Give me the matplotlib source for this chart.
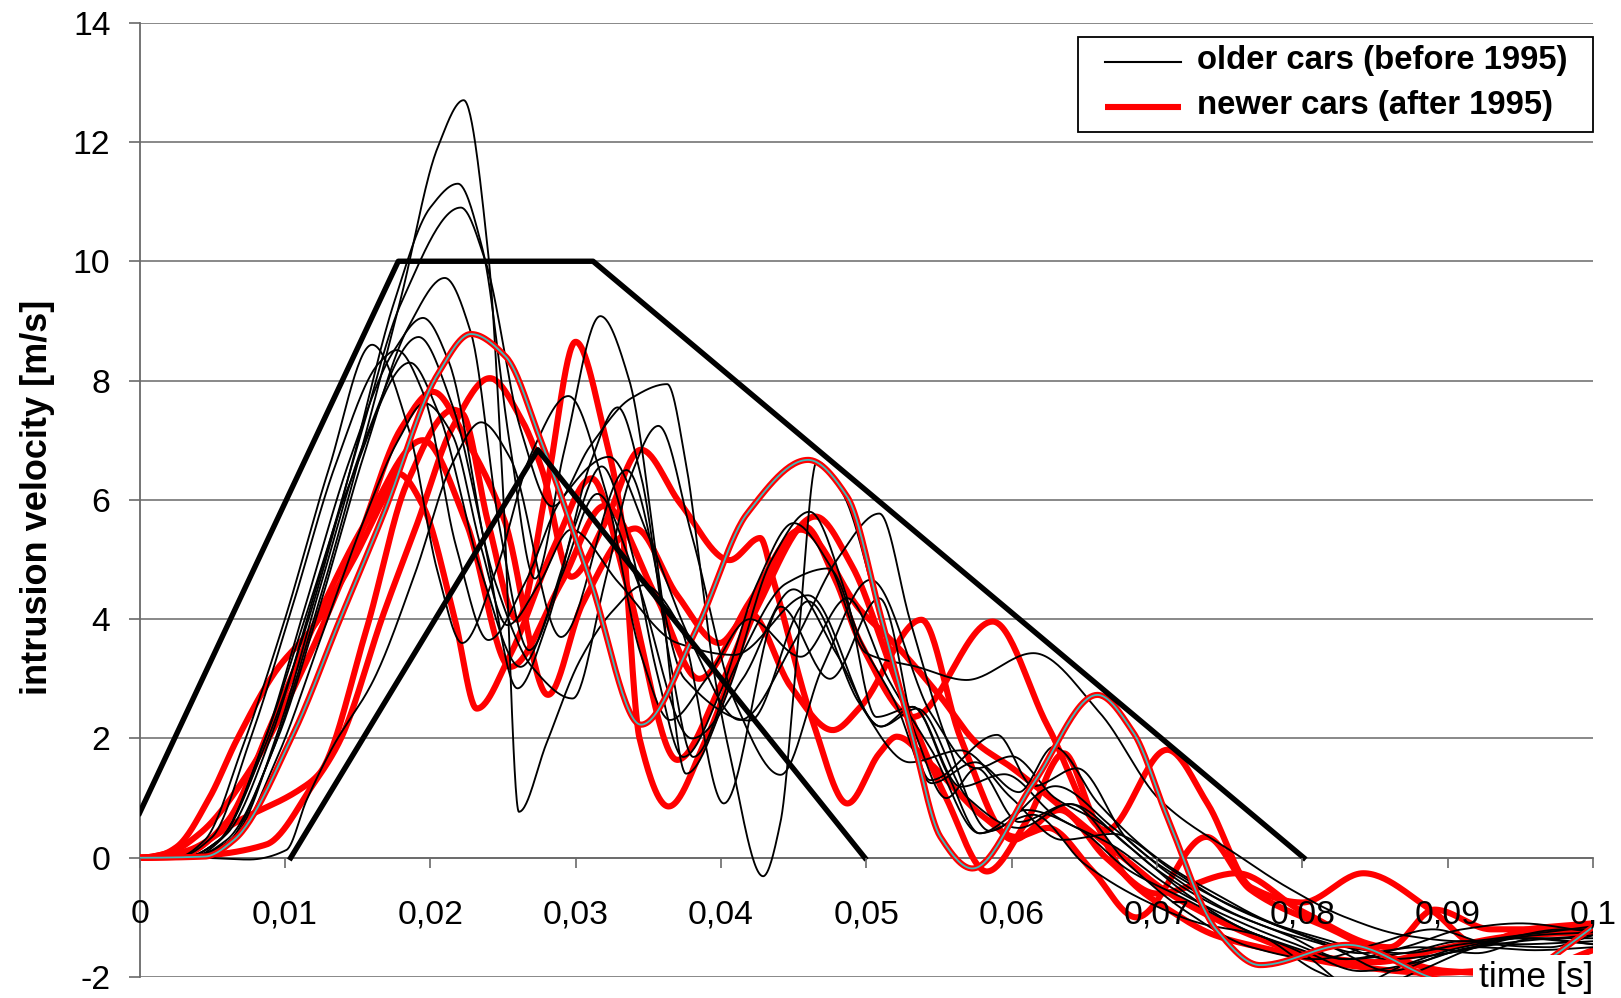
import numpy as np
import matplotlib
matplotlib.use("Agg")
import matplotlib.pyplot as plt
from matplotlib.patches import Rectangle

# ---------------- data ----------------
x_ticks = [0, 0.01, 0.02, 0.03, 0.04, 0.05, 0.06, 0.07, 0.08, 0.09, 0.1]
x_tick_labels = ["0", "0,01", "0,02", "0,03", "0,04", "0,05", "0,06", "0,07", "0,08", "0,09", "0,1"]
y_ticks = [-2, 0, 2, 4, 6, 8, 10, 12, 14]
legend_labels = ["older cars (before 1995)", "newer cars (after 1995)"]

# corridor (thick black)
corridor_outer_t = [0.0, 0.0178, 0.0312, 0.0801]
corridor_outer_v = [0.75, 10.0, 10.0, 0.0]
corridor_inner_t = [0.0104, 0.0274, 0.0499]
corridor_inner_v = [0.0, 6.84, 0.0]

# older cars (before 1995)
old_1_t = [0, .003, .006, .009, .012, .015, .018, .0205, .0223, .024, .025, .0261, .028, .0303, .0326, .0347, .0372, .0402, .0441, .0475, .0509, .0544, .059, .0615, .0645, .068, .072, .076, .080, .084, .088, .092, .096, .1]
old_1_v = [0, 0, .25, 1.7, 4.0, 6.6, 9.4, 11.9, 12.7, 10.1, 6.2, .77, 1.92, 3.31, 4.15, 4.57, 3.87, .91, 4.21, 3.0, 4.35, 1.3, 2.06, 1.2, 1.5, .3, -.4, -.9, -1.3, -1.6, -1.5, -1.6, -1.35, -1.45]
old_2_t = [0, .003, .0055, .0085, .0115, .0145, .0175, .020, .0219, .0236, .0255, .0272, .0292, .0317, .0337, .0357, .0376, .0405, .0435, .0461, .0485, .0507, .0532, .0556, .0578, .0615, .065, .069, .073, .077, .081, .0845, .088, .092, .096, .1]
old_2_v = [0, 0, .3, 1.8, 3.9, 6.5, 9.3, 10.9, 11.3, 10.2, 6.9, 4.68, 6.8, 9.08, 8.0, 4.8, 1.41, 2.8, 5.0, 5.8, 4.5, 2.36, 2.53, 1.4, .41, .72, -.1, -.7, -1.1, -1.3, -1.9, -2.2, -1.9, -1.5, -1.3, -1.25]
old_3_t = [0, .0035, .006, .009, .012, .015, .018, .0221, .0238, .0262, .0284, .031, .0338, .0363, .0376, .0386, .0395, .0406, .0429, .0441, .0453, .0466, .0484, .051, .0535, .0555, .0576, .0605, .064, .068, .072, .0765, .081, .085, .089, .093, .097, .1]
old_3_v = [0, 0, .4, 2.0, 4.4, 6.9, 9.3, 10.9, 10.0, 7.2, 5.89, 6.9, 7.7, 7.94, 6.6, 4.82, 3.15, 1.75, -.31, .6, 3.6, 6.64, 6.1, 4.0, 2.0, 1.0, 1.5, .6, .9, -.1, -.9, -1.5, -1.7, -1.45, -1.2, -1.45, -1.5, -1.3]
old_4_t = [0, .0035, .006, .0095, .0125, .0155, .0185, .021, .0228, .0248, .0268, .029, .031, .0329, .0345, .0365, .0381, .041, .0445, .0474, .0497, .052, .0545, .0575, .0605, .0629, .066, .070, .074, .078, .082, .086, .090, .094, .098, .1]
old_4_v = [0, 0, .3, 2.0, 4.3, 6.8, 8.9, 9.72, 8.8, 5.5, 3.48, 4.8, 6.6, 7.55, 6.4, 3.3, 1.69, 3.2, 4.6, 4.85, 3.6, 2.6, 1.25, 1.6, 1.1, 1.86, .9, 0, -.6, -1.1, -1.4, -1.7, -1.6, -1.35, -1.2, -1.2]
old_5_t = [0, .003, .0055, .0085, .0115, .0145, .0175, .0195, .0213, .0238, .026, .028, .030, .0318, .0338, .0356, .0374, .040, .0425, .045, .0475, .050, .0535, .0569, .0615, .0661, .0702, .0757, .079, .083, .087, .091, .095, .1]
old_5_v = [0, 0, .3, 1.9, 4.3, 6.7, 8.5, 9.05, 8.3, 5.2, 2.84, 3.9, 5.6, 6.56, 5.2, 3.1, 1.69, 2.8, 4.6, 5.61, 4.9, 3.43, 3.2, 2.98, 3.43, 2.42, .97, .02, -.5, -1.0, -1.3, -1.4, -1.3, -1.15]
old_6_t = [0, .0035, .0065, .0095, .0125, .0155, .0192, .0215, .0245, .027, .0298, .032, .0338, .0357, .038, .041, .0441, .047, .0503, .0545, .0576, .060, .063, .066, .070, .074, .078, .082, .086, .090, .095, .1]
old_6_v = [0, 0, .35, 2.1, 4.6, 7.0, 8.73, 7.6, 4.6, 3.2, 2.67, 4.6, 6.4, 7.24, 5.4, 2.6, 1.39, 3.2, 4.66, 2.4, 1.5, 1.7, 1.0, .6, -.2, -.8, -1.2, -1.5, -1.9, -1.6, -1.4, -1.3]
old_7_t = [0, .0025, .0045, .007, .010, .013, .016, .0185, .0205, .0222, .0245, .027, .0295, .032, .0345, .0365, .039, .042, .0455, .0487, .0515, .0545, .0578, .061, .0645, .068, .072, .076, .080, .0835, .087, .091, .095, .1]
old_7_v = [0, 0, .3, 1.8, 4.0, 6.5, 8.6, 7.2, 4.8, 3.6, 4.8, 6.8, 7.74, 6.2, 3.4, 2.31, 3.0, 4.0, 3.37, 4.35, 3.0, 1.8, .41, .8, .5, -.2, -.7, -1.2, -1.6, -2.15, -1.8, -1.5, -1.35, -1.45]
old_8_t = [0, .0025, .005, .0075, .0105, .0135, .0165, .0177, .0195, .0218, .024, .0265, .029, .0323, .035, .038, .0413, .045, .048, .0509, .053, .0555, .0585, .063, .067, .071, .075, .079, .083, .087, .091, .095, .1]
old_8_v = [0, 0, .35, 1.9, 4.2, 6.6, 8.3, 8.51, 7.8, 5.2, 3.65, 4.6, 6.0, 6.72, 5.4, 3.6, 2.31, 3.6, 5.0, 5.77, 3.99, 2.0, .45, 1.2, .5, -.3, -.9, -1.3, -1.7, -1.5, -1.2, -1.1, -1.25]
old_9_t = [0, .0035, .0065, .0095, .0125, .0155, .0178, .0196, .0215, .0235, .0253, .0275, .0297, .033, .037, .0409, .046, .051, .0532, .0565, .0595, .063, .067, .071, .075, .079, .083, .087, .091, .095, .1]
old_9_v = [0, 0, .3, 1.7, 3.7, 5.7, 7.0, 7.62, 7.1, 5.2, 3.9, 4.6, 5.5, 4.6, 3.6, 3.4, 4.4, 2.2, 2.53, 1.19, 1.4, .7, .2, -.5, -1.0, -1.4, -1.7, -1.6, -1.4, -1.45, -1.4]
old_10_t = [0, .003, .0055, .0085, .0115, .0145, .0186, .0205, .0235, .0262, .029, .0315, .034, .038, .0415, .045, .048, .051, .0535, .057, .0605, .064, .068, .072, .076, .080, .084, .088, .092, .096, .1]
old_10_v = [0, 0, .3, 1.9, 4.1, 6.3, 8.3, 7.5, 4.8, 3.2, 4.7, 6.1, 4.8, 2.0, 3.0, 4.5, 3.4, 2.2, 2.5, 1.0, .5, .9, .2, -.6, -1.2, -1.55, -1.9, -1.75, -1.5, -1.55, -1.5]
old_11_t = [0, .004, .0075, .0101, .0115, .0133, .0161, .019, .0215, .0235, .0255, .029, .0335, .0375, .042, .046, .0495, .053, .0565, .060, .0635, .067, .071, .075, .079, .083, .087, .091, .095, .1]
old_11_v = [0, 0, -.03, .13, .97, 1.86, 2.98, 4.8, 6.6, 7.3, 6.7, 3.7, 6.5, 3.0, 2.3, 4.3, 2.6, 1.6, 1.8, 1.0, .3, .4, -.2, -.8, -1.2, -1.5, -1.6, -1.45, -1.35, -1.35]

# newer cars (after 1995)
new_1_t = [0, .0045, .0065, .0106, .0138, .0168, .0205, .0228, .0252, .0276, .031, .0345, .0383, .0418, .046, .0487, .051, .0531, .0551, .0573, .0615, .0659, .0684, .0707, .0741, .0771, .0831, .0895, .094, .097, .1]
new_1_v = [0, .02, .3, 2.09, 4.0, 5.77, 8.1, 8.78, 8.4, 7.0, 4.66, 2.23, 3.82, 5.77, 6.67, 6.05, 4.05, 2.1, .35, -.18, 1.25, 2.73, 2.09, .69, -1.21, -1.8, -1.46, -2.05, -2.2, -1.7, -1.16]
new_2_t = [0, .0015, .00255, .00484, .00668, .00943, .01195, .0147, .0170, .0178, .0195, .0217, .0232, .0255, .0285, .0311, .0335, .037, .040, .043, .0458, .0478, .0496, .0532, .0587, .0625, .0665, .0707, .0735, .0765, .080, .0842, .089, .092, .0955, .1]
new_2_v = [0, .05, .18, 1.02, 1.97, 3.15, 3.87, 4.99, 6.11, 6.44, 5.9, 3.99, 2.5, 3.4, 5.2, 6.36, 4.6, 1.64, 2.9, 4.6, 5.55, 4.7, 3.6, 2.36, 3.96, 2.2, .46, 1.81, .9, -.5, -.75, -.26, -.9, -1.45, -1.2, -1.1]
new_3_t = [0, .002, .00416, .0076, .0115, .015, .018, .0202, .0225, .0251, .0281, .0305, .0341, .037, .0399, .042, .0448, .0477, .0496, .0538, .0565, .0601, .0633, .0665, .070, .0755, .080, .086, .0891, .093, .1]
new_3_v = [0, .08, .41, 1.47, 3.3, 5.3, 7.2, 7.81, 7.0, 5.66, 2.73, 4.27, 5.52, 4.4, 3.6, 4.1, 2.87, 2.14, 2.53, 3.99, 2.0, .3, .8, 0, -.6, -.26, -.9, -1.5, -.87, -1.2, -1.2]
new_4_t = [0, .003, .0069, .011, .0124, .0156, .0184, .0216, .0222, .0240, .026, .028, .030, .0321, .0331, .0344, .0364, .039, .0425, .0465, .049, .052, .0555, .0583, .061, .0636, .0656, .0679, .071, .074, .078, .083, .089, .095, .1]
new_4_v = [0, .1, .63, 1.14, 1.42, 3.82, 6.28, 7.51, 7.45, 5.6, 3.99, 6.2, 8.65, 7.0, 5.77, 2.0, .86, 2.0, 4.2, 5.72, 4.9, 3.0, 1.0, -.23, .6, 1.75, .69, -.32, -.9, -1.3, -1.55, -1.8, -1.93, -1.85, -1.8]
new_5_t = [0, .004, .0087, .012, .0138, .0168, .0191, .0215, .0241, .0263, .0277, .0297, .032, .0345, .0372, .0406, .0427, .0436, .0463, .0487, .0509, .0521, .0544, .058, .0603, .0625, .0655, .0686, .0734, .0764, .082, .0865, .09, .095, .1]
new_5_v = [0, .03, .22, 1.25, 1.97, 4.1, 5.6, 7.2, 8.04, 7.34, 6.5, 4.71, 5.6, 6.84, 5.94, 4.99, 5.36, 4.66, 2.3, .91, 1.75, 2.03, 1.58, .7, .35, .5, -.2, -1.0, .35, -.53, -1.2, -1.7, -1.9, -1.95, -1.55]
new_6_t = [0, .003, .006, .009, .012, .0155, .0195, .0225, .0255, .029, .032, .0355, .0385, .042, .0455, .0496, .0519, .0551, .0576, .0599, .0617, .0656, .0679, .0702, .073, .0765, .080, .085, .090, .095, .1]
new_6_v = [0, .05, .6, 2.2, 3.9, 5.6, 7.0, 5.6, 3.2, 4.6, 5.9, 4.4, 3.0, 4.3, 5.5, 4.15, 3.6, 2.7, 1.92, 1.53, 1.19, .41, -.04, -.49, -.9, -1.3, -1.6, -1.75, -1.5, -1.3, -1.25]

old_cars = [(old_1_t, old_1_v), (old_2_t, old_2_v), (old_3_t, old_3_v), (old_4_t, old_4_v),
            (old_5_t, old_5_v), (old_6_t, old_6_v), (old_7_t, old_7_v), (old_8_t, old_8_v),
            (old_9_t, old_9_v), (old_10_t, old_10_v), (old_11_t, old_11_v)]
new_cars = [(new_2_t, new_2_v), (new_3_t, new_3_v), (new_4_t, new_4_v),
            (new_5_t, new_5_v), (new_6_t, new_6_v)]
new_highlight = (new_1_t, new_1_v)


# smooth drawing through the read points (like a spreadsheet "smoothed line")
def smooth(t, v, n=30):
    x = np.asarray(t, float)
    y = np.asarray(v, float)
    h = np.diff(x)
    d = np.diff(y) / h
    m = np.zeros_like(y)
    for k in range(1, len(y) - 1):
        if d[k - 1] * d[k] > 0:
            w1 = 2 * h[k] + h[k - 1]
            w2 = h[k] + 2 * h[k - 1]
            m[k] = (w1 + w2) / (w1 / d[k - 1] + w2 / d[k])
    m[0] = 0.0
    m[-1] = d[-1]
    xs, ys = [], []
    for k in range(len(h)):
        s = np.linspace(0, 1, n, endpoint=False)
        h00 = 2 * s**3 - 3 * s**2 + 1
        h10 = s**3 - 2 * s**2 + s
        h01 = -2 * s**3 + 3 * s**2
        h11 = s**3 - s**2
        xs.append(x[k] + s * h[k])
        ys.append(h00 * y[k] + h10 * h[k] * m[k] + h01 * y[k + 1] + h11 * h[k] * m[k + 1])
    xs.append([x[-1]])
    ys.append([y[-1]])
    return np.concatenate(xs), np.concatenate(ys)


RED = "#ff0000"
TEAL = "#3fbcbc"
RED_LW = 4.4
BLACK_LW = 1.35

plt.rcParams["font.family"] = ["Liberation Sans", "DejaVu Sans"]

fig = plt.figure(figsize=(16.21, 9.98), dpi=100)
ax = fig.add_axes([0.0861, 0.0210, 0.8966, 0.9563])
ax.set_xlim(0, 0.1)
ax.set_ylim(-2, 14)

for yv in y_ticks:
    ax.axhline(yv, color="#7f7f7f", lw=1.3, zorder=1)

# newer cars (thick red)
for t, v in new_cars:
    xs, ys = smooth(t, v)
    ax.plot(xs, ys, color=RED, lw=RED_LW, solid_capstyle="round", zorder=2)

# older cars (thin black)
for t, v in old_cars:
    xs, ys = smooth(t, v)
    ax.plot(xs, ys, color="black", lw=BLACK_LW, zorder=3)

# highlighted newer car: red with teal centre
xs, ys = smooth(*new_highlight)
ax.plot(xs, ys, color=RED, lw=RED_LW, zorder=4)
ax.plot(xs, ys, color=TEAL, lw=1.3, zorder=4.1)

# corridor
ax.plot(corridor_outer_t, corridor_outer_v, color="black", lw=3.9, zorder=5)
ax.plot(corridor_inner_t, corridor_inner_v, color="black", lw=3.9, zorder=5)

# axes styling
for s in ["top", "right"]:
    ax.spines[s].set_visible(False)
ax.spines["bottom"].set_position(("data", 0))
for s in ["bottom", "left"]:
    ax.spines[s].set_color("#6a6a6a")
    ax.spines[s].set_linewidth(1.3)
    ax.spines[s].set_zorder(1.5)

ax.set_xticks(x_ticks)
ax.set_xticklabels(x_tick_labels)
ax.set_yticks(y_ticks)
ax.set_yticklabels([str(y) for y in y_ticks])
ax.tick_params(axis="x", direction="out", length=7.5, width=1.2, color="#6a6a6a", pad=22.5, labelsize=24.3)
ax.tick_params(axis="y", direction="out", length=8, width=1.2, color="#6a6a6a", pad=13, labelsize=24.3)
ax.xaxis.set_zorder(10)
ax.yaxis.set_zorder(10)

ax.set_ylabel("intrusion velocity [m/s]", fontsize=26, fontweight="bold", ha="center", va="center")
ax.yaxis.set_label_coords(-0.0705, 0.503)

ax.text(0.0961, -2.0, "time [s]", fontsize=25.5, ha="center", va="center", zorder=20, clip_on=False,
        bbox=dict(facecolor="white", edgecolor="none", pad=4))

# legend (box, samples and labels placed in axes fractions)
ax.add_patch(Rectangle((0.6457, 0.8855), 1.0 - 0.6457, 0.9850 - 0.8855, transform=ax.transAxes,
                       facecolor="white", edgecolor="black", lw=1.3, zorder=30, clip_on=False))
ax.plot([0.6645, 0.7165], [0.9588, 0.9588], transform=ax.transAxes, color="black", lw=1.5,
        zorder=31, clip_on=False)
ax.plot([0.6645, 0.7165], [0.9111, 0.9111], transform=ax.transAxes, color=RED, lw=RED_LW,
        zorder=31, clip_on=False, solid_capstyle="butt")
ax.text(0.7275, 0.9605, legend_labels[0], transform=ax.transAxes, fontsize=23.7, fontweight="bold",
        ha="left", va="center", zorder=32)
ax.text(0.7275, 0.9128, legend_labels[1], transform=ax.transAxes, fontsize=23.7, fontweight="bold",
        ha="left", va="center", zorder=32)

fig.savefig("out.png", dpi=100)
